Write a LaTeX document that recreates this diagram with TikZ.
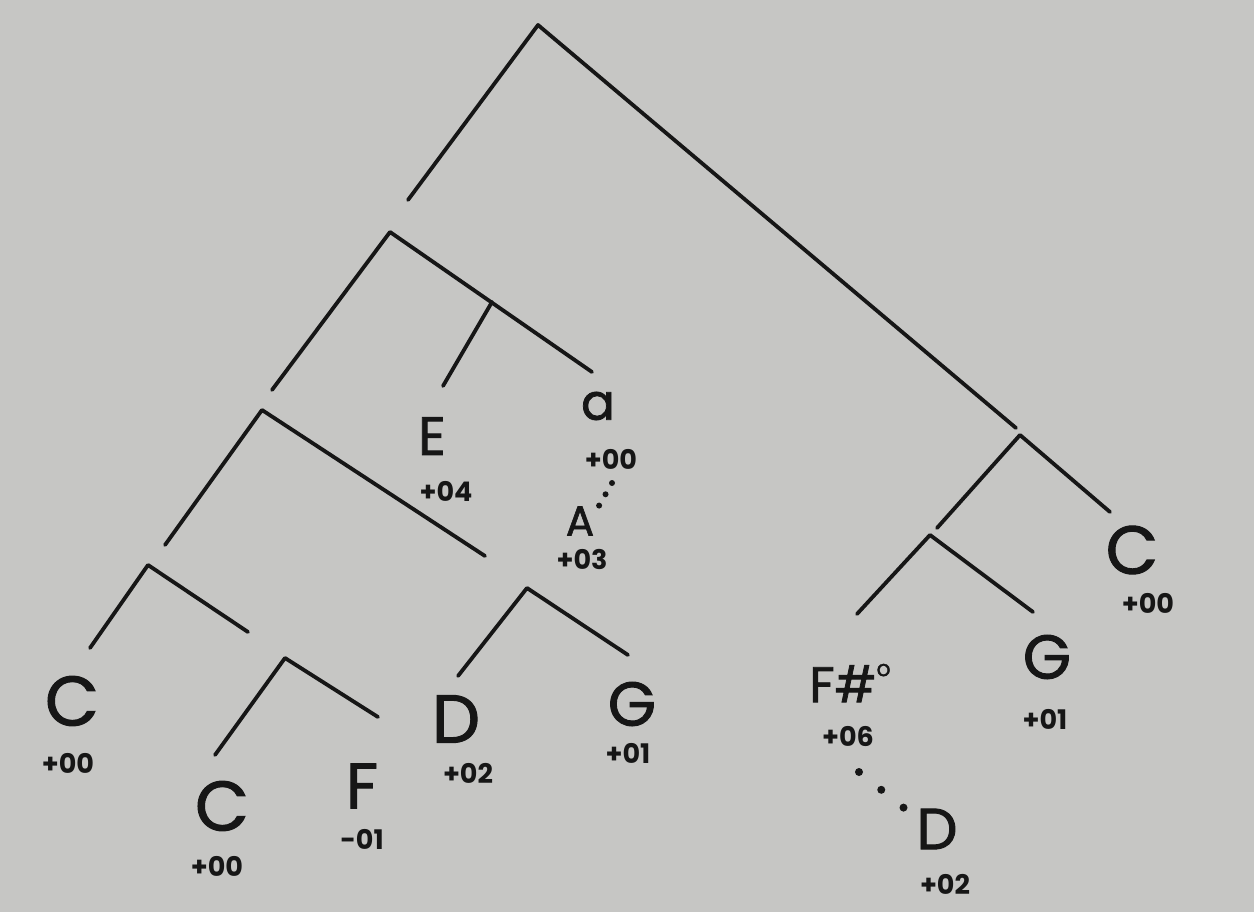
\documentclass[tikz,border=0pt]{standalone}
\usepackage{fontspec}
\setmainfont{Poppins}
\newfontfamily\hand[FakeBold=1.5]{Poppins}
\definecolor{paper}{RGB}{198,198,196}
\definecolor{ink}{RGB}{22,22,22}
\newcommand{\fsz}[1]{\hand\fontsize{#1}{#1}\selectfont}
\tikzset{
  br/.style={draw=ink, line width=3.8pt, line cap=round, line join=round},
  dotline/.style={draw=ink, line width=6pt, line cap=round, dash pattern=on 0pt off 13pt},
  lab/.style={text=ink, inner sep=0pt},
  num/.style={text=ink, inner sep=0pt, font=\fontsize{27}{27}\selectfont\bfseries},
}
\begin{document}
\begin{tikzpicture}[x=1pt,y=-1pt]
\fill[paper] (0,0) rectangle (1254,912);
\useasboundingbox (0,0) rectangle (1254,912);
% tree vertices
\coordinate (root) at (538,25);
\coordinate (rl) at (408,200);
\coordinate (rr) at (1016,428);
\coordinate (n1) at (390,232);
\coordinate (n1l) at (272,390);
\coordinate (n1r) at (592,372);
\coordinate (n1m) at (492,302);
\coordinate (n1e) at (443,386);
\coordinate (n2) at (262,410);
\coordinate (n2l) at (165,545);
\coordinate (n2r) at (485,556);
\coordinate (n3) at (148,565);
\coordinate (n3l) at (90,648);
\coordinate (n3r) at (248,632);
\coordinate (n4) at (285,658);
\coordinate (n4l) at (215,755);
\coordinate (n4r) at (378,717);
\coordinate (n5) at (527,588);
\coordinate (n5l) at (458,676);
\coordinate (n5r) at (628,655);
\coordinate (m1) at (1020,435);
\coordinate (m1l) at (937,528);
\coordinate (m1r) at (1110,512);
\coordinate (m2) at (930,535);
\coordinate (m2l) at (857,614);
\coordinate (m2r) at (1033,612);
% branches
\draw[br] (rl) -- (root) -- (rr);
\draw[br] (n1l) -- (n1) -- (n1r);
\draw[br] (n1m) -- (n1e);
\draw[br] (n2l) -- (n2) -- (n2r);
\draw[br] (n3l) -- (n3) -- (n3r);
\draw[br] (n4l) -- (n4) -- (n4r);
\draw[br] (n5l) -- (n5) -- (n5r);
\draw[br] (m1l) -- (m1) -- (m1r);
\draw[br] (m2l) -- (m2) -- (m2r);
% labels
\node[lab,font=\fsz{54}] (E) at (432,436) {E};
\node[num] (Ev) at (446,491) {+04};
\node[lab,font=\fsz{50}] (a) at (598,406) {a};
\node[num] (av) at (611,459) {+00};
\node[lab,font=\fsz{42}] (A) at (580,521) {A};
\node[num] (Av) at (582,559) {+03};
\node[lab,font=\fsz{70}] (C1) at (72,701) {C};
\node[num] (C1v) at (68,763) {+00};
\node[lab,font=\fsz{70}] (C2) at (222,806) {C};
\node[num] (C2v) at (217,866) {+00};
\node[lab,font=\fsz{64}] (F) at (362,786) {F};
\node[num] (Fv) at (362,839) {-01};
\node[lab,font=\fsz{68}] (D1) at (456,719) {D};
\node[num] (D1v) at (468,773) {+02};
\node[lab,font=\fsz{62}] (G1) at (632,704) {G};
\node[num] (G1v) at (628,753) {+01};
\node[lab,font=\fsz{50}] (Fs) at (850,683) {F\#\raisebox{0.95ex}{\fsz{22}o}};
\node[num] (Fsv) at (848,736) {+06};
\node[lab,font=\fsz{58}] (D2) at (937,829) {D};
\node[num] (D2v) at (945,884) {+02};
\node[lab,font=\fsz{62}] (G2) at (1047,657) {G};
\node[num] (G2v) at (1045,719) {+01};
\node[lab,font=\fsz{68}] (C3) at (1132,550) {C};
\node[num] (C3v) at (1148,603) {+00};
% dotted links
\coordinate (d1s) at (612,483);
\coordinate (d1e) at (596,511);
\draw[dotline] (d1s) -- (d1e);
\coordinate (d2s) at (859,772);
\coordinate (d2e) at (904,808);
\draw[dotline,line width=8pt,dash pattern=on 0pt off 28.5pt] (d2s) -- (d2e);
\end{tikzpicture}
\end{document}
